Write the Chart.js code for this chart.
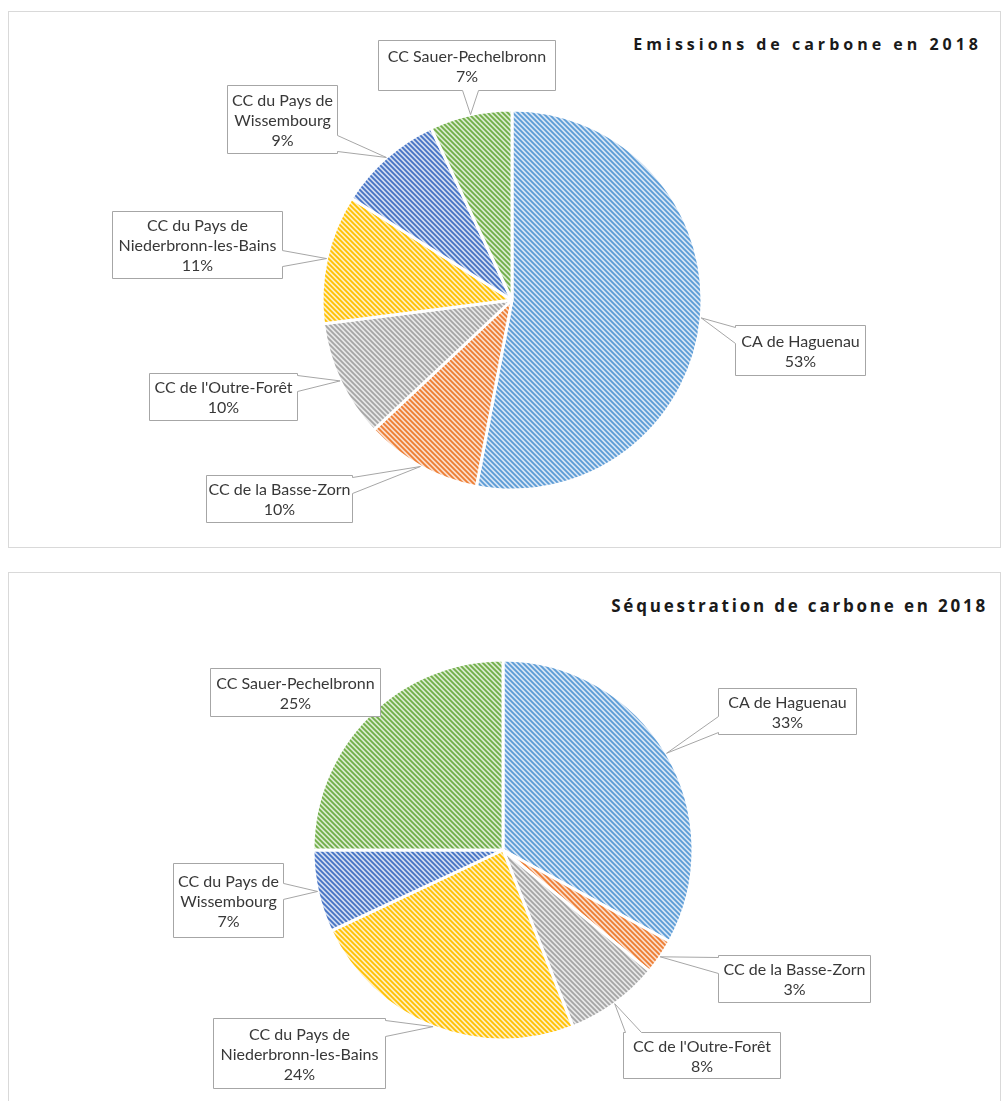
<!DOCTYPE html>
<html lang="fr">
<head>
<meta charset="utf-8">
<script src="https://cdn.jsdelivr.net/npm/chart.js@4.4.1/dist/chart.umd.min.js"></script>
<style>
  body { margin: 0; background: #fff; width: 1003px; height: 1101px; position: relative; overflow: hidden; }
  .panel { position: absolute; left: 8px; width: 993px; border: 1px solid #d9d9d9; box-sizing: border-box; }
  #p1 { top: 11px; height: 537px; }
  #p2 { top: 572px; height: 560px; }
  .title { position: absolute; font-family: 'Open Sans', sans-serif; font-weight: bold; color: #1a1a1a; white-space: nowrap; }
  #t1 { top: 33px; right: 21px; font-size: 16px; letter-spacing: 4px; }
  #t2 { top: 594px; right: 15px; font-size: 17px; letter-spacing: 2.8px; }
  canvas { position: absolute; left: 0; }
  #c1 { top: 0; }
  #c2 { top: 560px; }
</style>
</head>
<body>
<div class="panel" id="p1"></div>
<div class="panel" id="p2"></div>
<div class="title" id="t1">Emissions de carbone en 2018</div>
<div class="title" id="t2">Séquestration de carbone en 2018</div>
<canvas id="c1" width="1003" height="560"></canvas>
<canvas id="c2" width="1003" height="541"></canvas>
<script>
// categories (multi-line for the callouts)
const categories = [
  ['CA de Haguenau'],
  ['CC de la Basse-Zorn'],
  ["CC de l'Outre-Forêt"],
  ['CC du Pays de', 'Niederbronn-les-Bains'],
  ['CC du Pays de', 'Wissembourg'],
  ['CC Sauer-Pechelbronn']
];
const emissionValues = [53, 10, 10, 11, 9, 7];
const sequestrationValues = [33, 3, 8, 24, 7, 25];

const sliceColors = ['#5B9BD5', '#ED7D31', '#A5A5A5', '#FFC000', '#4472C4', '#70AD47'];
const sliceTints = ['#D5E5F5', '#FADCCB', '#E8E8E8', '#FFEFBF', '#D0DBF0', '#D9EBCE'];

// callout boxes: [dx, dy, w, h] relative to pie centre
const emissionBoxes = [
  [223, 25, 130, 50],
  [-306, 175, 146, 47],
  [-363, 73, 148, 47],
  [-400, -89, 170, 67],
  [-285, -215, 110, 68],
  [-134, -260, 177, 50]
];
const sequestrationBoxes = [
  [215, -162, 138, 46],
  [215, 105, 152, 47],
  [120, 182, 157, 46],
  [-290, 168, 172, 70],
  [-330, 13, 110, 74],
  [-293, -182, 170, 48]
];

// diagonal hatch fill
function hatch(fg, bg) {
  const s = 5;
  const c = document.createElement('canvas');
  c.width = c.height = s;
  const g = c.getContext('2d');
  g.fillStyle = bg;
  g.fillRect(0, 0, s, s);
  g.strokeStyle = fg;
  g.lineWidth = 1.8;
  g.beginPath();
  g.moveTo(-1, -1); g.lineTo(s + 1, s + 1);
  g.moveTo(-1, s - 1); g.lineTo(1, s + 1);
  g.moveTo(s - 1, -1); g.lineTo(s + 1, 1);
  g.stroke();
  return g.createPattern(c, 'repeat');
}

// box with a wedge pointing at (tx, ty)
function calloutPath(ctx, x, y, w, h, tx, ty) {
  const ox = tx < x ? x - tx : tx > x + w ? tx - (x + w) : 0;
  const oy = ty < y ? y - ty : ty > y + h ? ty - (y + h) : 0;
  const half = 8;
  const clamp = (v, a, b) => Math.max(a, Math.min(b, v));
  ctx.moveTo(x, y);
  if (oy >= ox && ty < y) {
    const c = clamp(tx, x + half + 2, x + w - half - 2);
    ctx.lineTo(c - half, y); ctx.lineTo(tx, ty); ctx.lineTo(c + half, y);
  }
  ctx.lineTo(x + w, y);
  if (ox > oy && tx > x + w) {
    const c = clamp(ty, y + half + 2, y + h - half - 2);
    ctx.lineTo(x + w, c - half); ctx.lineTo(tx, ty); ctx.lineTo(x + w, c + half);
  }
  ctx.lineTo(x + w, y + h);
  if (oy >= ox && ty > y + h) {
    const c = clamp(tx, x + half + 2, x + w - half - 2);
    ctx.lineTo(c + half, y + h); ctx.lineTo(tx, ty); ctx.lineTo(c - half, y + h);
  }
  ctx.lineTo(x, y + h);
  if (ox > oy && tx < x) {
    const c = clamp(ty, y + half + 2, y + h - half - 2);
    ctx.lineTo(x, c + half); ctx.lineTo(tx, ty); ctx.lineTo(x, c - half);
  }
  ctx.closePath();
}

function makeCallouts(boxes) {
  return {
    id: 'callouts',
    afterDatasetsDraw(chart) {
      const ctx = chart.ctx;
      const meta = chart.getDatasetMeta(0);
      const vals = chart.data.datasets[0].data;
      meta.data.forEach((arc, i) => {
        const { x, y, startAngle, endAngle, outerRadius } =
          arc.getProps(['x', 'y', 'startAngle', 'endAngle', 'outerRadius'], true);
        const mid = (startAngle + endAngle) / 2;
        const tx = x + Math.cos(mid) * outerRadius;
        const ty = y + Math.sin(mid) * outerRadius;
        const [dx, dy, w, h] = boxes[i];
        const bx = Math.round(x + dx) + 0.5, by = Math.round(y + dy) + 0.5;
        ctx.save();
        ctx.beginPath();
        calloutPath(ctx, bx, by, w, h, tx, ty);
        ctx.fillStyle = '#ffffff';
        ctx.fill();
        ctx.strokeStyle = '#a6a6a6';
        ctx.lineWidth = 1;
        ctx.stroke();
        const lines = [...chart.data.labels[i], vals[i] + '%'];
        ctx.fillStyle = '#383838';
        ctx.font = '16px Lato, "Open Sans", sans-serif';
        ctx.textAlign = 'center';
        ctx.textBaseline = 'middle';
        const lh = 20;
        const y0 = by + h / 2 - (lines.length - 1) * lh / 2 + 1;
        lines.forEach((t, k) => ctx.fillText(t, bx + w / 2, y0 + k * lh));
        ctx.restore();
      });
    }
  };
}

function pie(id, values, radius, padding, boxes) {
  return new Chart(document.getElementById(id), {
    type: 'pie',
    data: {
      labels: categories,
      datasets: [{
        data: values,
        backgroundColor: sliceColors.map((c, i) => hatch(c, sliceTints[i])),
        borderColor: '#ffffff',
        borderWidth: 3
      }]
    },
    options: {
      responsive: false,
      animation: false,
      events: [],
      radius: radius,
      layout: { padding: padding },
      plugins: { legend: { display: false }, tooltip: { enabled: false } }
    },
    plugins: [makeCallouts(boxes)]
  });
}

pie('c1', emissionValues, 190, { left: 21, right: 0, top: 40, bottom: 0 }, emissionBoxes);
pie('c2', sequestrationValues, 190, { left: 3, right: 0, top: 39, bottom: 0 }, sequestrationBoxes);
</script>
</body>
</html>
